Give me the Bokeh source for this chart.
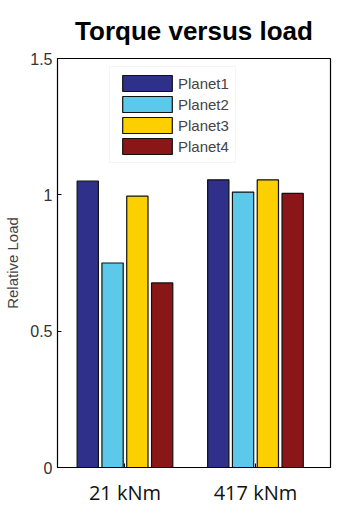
from bokeh.plotting import figure
from bokeh.models import ColumnDataSource, FixedTicker, Legend, LegendItem, Range1d
from bokeh.transform import dodge
from bokeh.embed import file_html
from bokeh.resources import INLINE

# ---- data ----
groups = ["21 kNm", "417 kNm"]
group_pos = [1, 2]
series_names = ["Planet1", "Planet2", "Planet3", "Planet4"]
planet1 = [1.05, 1.055]
planet2 = [0.75, 1.01]
planet3 = [0.995, 1.055]
planet4 = [0.677, 1.005]
y_ticks = [0, 0.5, 1, 1.5]
y_tick_labels = ["0", "0.5", "1", "1.5"]

colors = ["#2E3089", "#5CC8EA", "#FCD000", "#8A1618"]

p = figure(width=353, height=515, output_backend="svg", toolbar_location=None,
           x_range=Range1d(0.483, 2.575), y_range=Range1d(0, 1.5),
           min_border_left=57, min_border_right=23, min_border_top=58, min_border_bottom=48)
p.title.text = "Torque versus load"
p.title.text_font = "Liberation Sans"
p.title.text_font_style = "bold"
p.title.text_font_size = "26px"
p.title.align = "center"
p.title.text_color = "#000000"
p.title.standoff = 26

p.grid.visible = False
p.outline_line_color = "#000000"
p.outline_line_width = 1.2
p.background_fill_color = "white"

step = 0.19
width = 0.163
src = ColumnDataSource(dict(x=group_pos, p1=planet1, p2=planet2, p3=planet3, p4=planet4))
renderers = []
for i, (name, col) in enumerate(zip(["p1", "p2", "p3", "p4"], colors)):
    r = p.vbar(x=dodge("x", (i - 1.5) * step, range=p.x_range), top=name, width=width,
               source=src, fill_color=col, line_color="#111111", line_width=1.2)
    renderers.append(r)

legend = Legend(items=[LegendItem(label=n, renderers=[r]) for n, r in zip(series_names, renderers)],
                location=(52, 304), glyph_width=62, glyph_height=20, spacing=1,
                label_text_font="Liberation Sans", label_text_font_size="15px",
                label_standoff=-3, padding=6, margin=0,
                border_line_color="#ececec", background_fill_alpha=1)
p.add_layout(legend, "center")

# axes
xa = p.xaxis[0]
xa.ticker = FixedTicker(ticks=group_pos)
xa.major_label_overrides = {k: v for k, v in zip(group_pos, groups)}
xa.major_label_text_font = "Open Sans"
xa.major_label_text_font_size = "20px"
xa.major_label_text_color = "#111111"
xa.major_label_standoff = 11
xa.major_tick_in = 4
xa.major_tick_out = 0
xa.minor_tick_line_color = None
xa.axis_line_color = "#000000"

ya = p.yaxis[0]
ya.ticker = FixedTicker(ticks=y_ticks)
ya.major_label_overrides = {k: v for k, v in zip(y_ticks, y_tick_labels)}
ya.major_label_text_font = "Liberation Sans"
ya.major_label_text_font_size = "16px"
ya.major_label_text_color = "#333333"
ya.major_label_standoff = 5
ya.major_tick_in = 4
ya.major_tick_out = 0
ya.minor_tick_line_color = None
ya.axis_label = "Relative Load"
ya.axis_label_text_font = "Liberation Sans"
ya.axis_label_text_font_style = "normal"
ya.axis_label_text_font_size = "15px"
ya.axis_label_standoff = 6

open("out.html", "w").write(file_html(p, INLINE))
